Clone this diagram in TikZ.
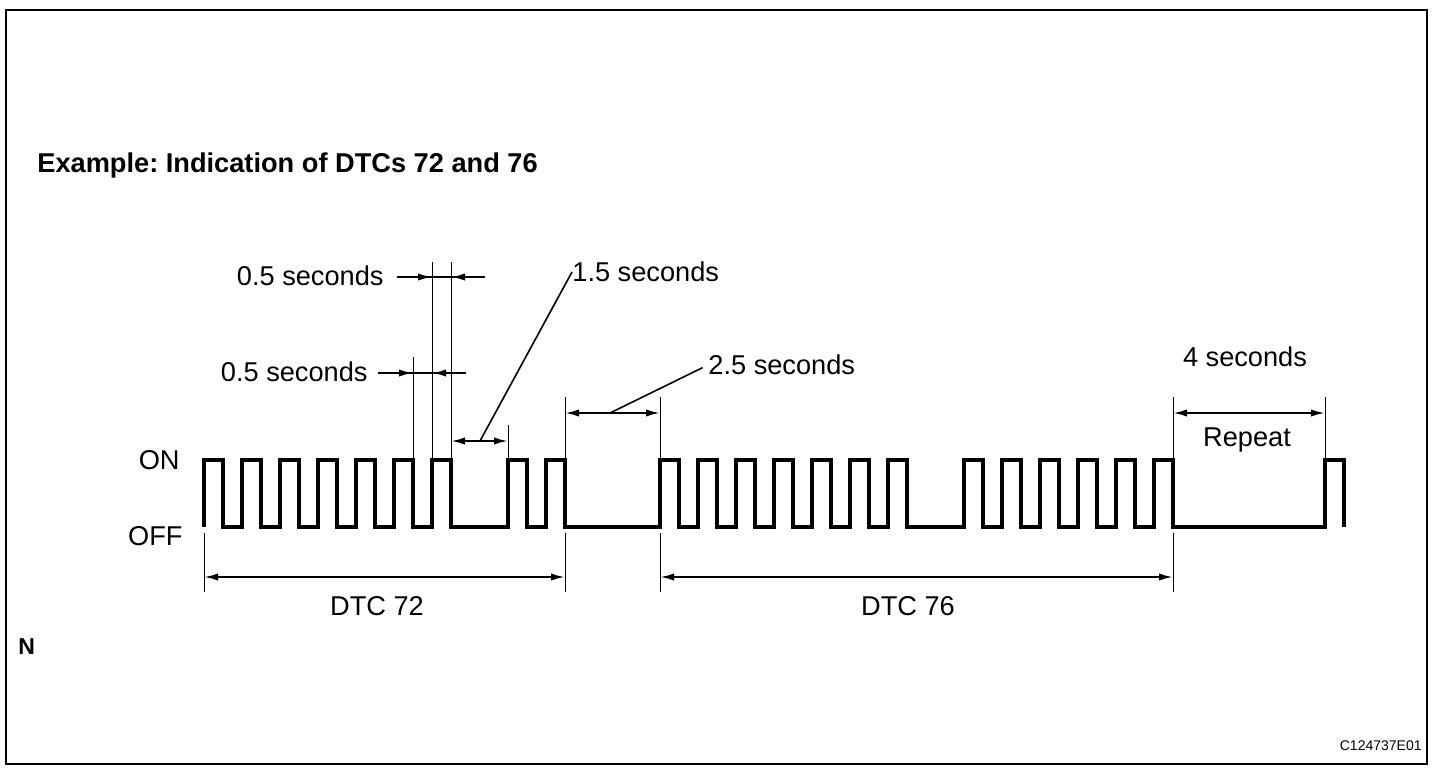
\documentclass[tikz,border=0pt]{standalone}
\usepackage{fontspec}
\setmainfont{Liberation Sans}
\usepackage{tikz}
\usetikzlibrary{arrows.meta,positioning}
\frenchspacing

\begin{document}
\begin{tikzpicture}[
    x=0.5pt, y=-0.5pt,
    every node/.style={font=\fontsize{13.6}{16}\selectfont, inner sep=0pt,
                       text height=9.8pt, text depth=0pt},
    headline/.style={font=\fontsize{13.6}{16}\selectfont\bfseries},
    nmark/.style={font=\fontsize{11.5}{13}\selectfont\bfseries, text height=8.3pt},
    figcode/.style={font=\fontsize{7}{8}\selectfont, text height=5pt},
    wave/.style={line width=1.6pt},
    ext/.style={line width=0.5pt},
    dimline/.style={line width=1pt},
    dimarrow/.style={line width=1pt, {Latex[length=7pt,width=3.6pt]}-{Latex[length=7pt,width=3.6pt]}},
    tip/.style={line width=1pt, -{Latex[length=7pt,width=3.6pt]}},
    leader/.style={line width=0.8pt}
]
\useasboundingbox (0,0) rectangle (1456,770);
\draw[line width=1pt] (6,10) rectangle (1427,764);

% Labels
\node[headline, anchor=west] (title) at (37,163) {Example: Indication of DTCs 72 and 76};
\node[anchor=east] (on)   at (180,460) {ON};
\node[anchor=east] (off)  at (183,536) {OFF};
\node[anchor=east] (hi05) at (384,276) {0.5 seconds};
\node[anchor=east] (lo05) at (368,372) {0.5 seconds};
\node[anchor=west] (gap15) at (572,272) {1.5 seconds};
\node[anchor=west] (gap25) at (708,365) {2.5 seconds};
\node (gap4)  at (1245,357) {4 seconds};
\node (rep)   at (1247,437) {Repeat};
\node (dtc72) at (377,606) {DTC 72};
\node (dtc76) at (908,606) {DTC 76};
\node[nmark, anchor=west] (nmk) at (18,646) {N};
\node[figcode, anchor=east] (fig) at (1422,745) {C124737E01};

% Extension lines
\draw[ext] (432,262) -- (432,460);
\draw[ext] (451,262) -- (451,460);
\draw[ext] (413,357) -- (413,460);
\draw[ext] (508,425) -- (508,460);
\foreach \x in {565,660,1173,1325}
  \draw[ext] (\x,397) -- (\x,460);
\foreach \x in {204,565,660,1173}
  \draw[ext] (\x,533) -- (\x,592);

% Signal
\draw[wave] (204,527)
  \foreach \x in {204,242,280,318,356,394,432,508,546,
                  660,698,736,774,812,850,888,964,1002,1040,1078,1116,1154,1325}
  { -- (\x,527) -- (\x,460) -- ({\x+19},460) -- ({\x+19},527) };

% Dimensions
\draw[dimline] (397,277) -- (485,277);
\draw[tip] (397,277) -- (432,277);
\draw[tip] (485,277) -- (451,277);
\draw[dimline] (378,373) -- (466,373);
\draw[tip] (378,373) -- (413,373);
\draw[tip] (466,373) -- (432,373);
\draw[dimarrow] (451,441) -- (508,441);
\draw[dimarrow] (565,413) -- (660,413);
\draw[dimarrow] (1173,413) -- (1325,413);
\draw[dimarrow] (204,577) -- (565,577);
\draw[dimarrow] (660,577) -- (1173,577);

% Leaders
\coordinate (m15) at (480,441);
\coordinate (m25) at (610,413);
\draw[leader] (m15) -- (gap15.west);
\draw[leader, shorten >=3pt] (m25) -- (gap25.west);

\end{tikzpicture}
\end{document}
